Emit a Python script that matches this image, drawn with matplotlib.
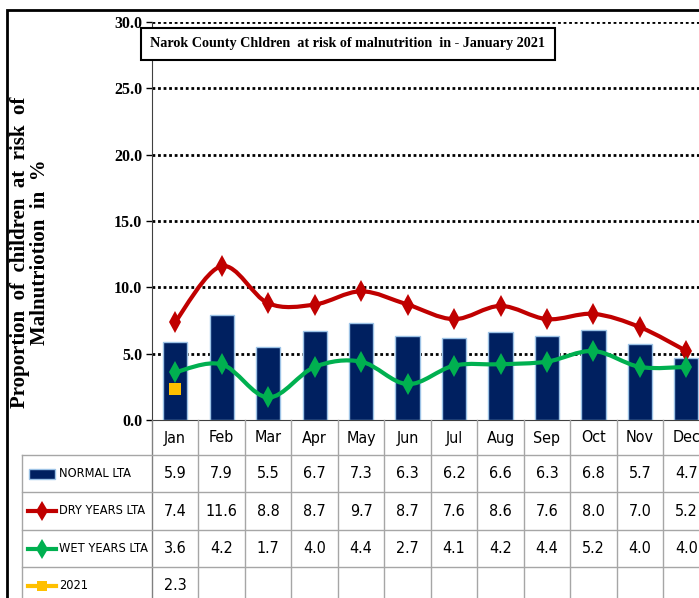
import numpy as np
import matplotlib.pyplot as plt
import matplotlib.transforms as mtransforms
from matplotlib.path import Path
from matplotlib.patches import PathPatch, Rectangle
from matplotlib.lines import Line2D

months = ['Jan', 'Feb', 'Mar', 'Apr', 'May', 'Jun', 'Jul', 'Aug', 'Sep', 'Oct', 'Nov', 'Dec']
normal_lta = [5.9, 7.9, 5.5, 6.7, 7.3, 6.3, 6.2, 6.6, 6.3, 6.8, 5.7, 4.7]
dry_lta = [7.4, 11.6, 8.8, 8.7, 9.7, 8.7, 7.6, 8.6, 7.6, 8.0, 7.0, 5.2]
wet_lta = [3.6, 4.2, 1.7, 4.0, 4.4, 2.7, 4.1, 4.2, 4.4, 5.2, 4.0, 4.0]
y2021 = [2.3]
row_labels = ['NORMAL LTA', 'DRY YEARS LTA', 'WET YEARS LTA', '2021']
yticks = [0, 5, 10, 15, 20, 25, 30]

navy = '#002060'
red = '#C00000'
green = '#00B050'
gold = '#FFC000'
grid_gray = '#A6A6A6'
serif_b = dict(family=['Liberation Serif', 'DejaVu Serif'], weight='bold')
sans_c = dict(family=['DejaVu Sans'], stretch='condensed')

W, H = 699, 598
fig = plt.figure(figsize=(W / 100, H / 100), dpi=100)


def fx(px):
    return px / W


def fy(py):
    return 1 - py / H


def smooth_path(x, y):
    # Excel-style smoothed line: cubic bezier through every point
    x = np.asarray(x, float)
    y = np.asarray(y, float)
    px = np.concatenate([[x[0]], x, [x[-1]]])
    py = np.concatenate([[y[0]], y, [y[-1]]])
    verts = [(x[0], y[0])]
    codes = [Path.MOVETO]
    for i in range(len(x) - 1):
        c1 = (px[i + 1] + (px[i + 2] - px[i]) / 6, py[i + 1] + (py[i + 2] - py[i]) / 6)
        c2 = (px[i + 2] - (px[i + 3] - px[i + 1]) / 6, py[i + 2] - (py[i + 3] - py[i + 1]) / 6)
        verts += [c1, c2, (px[i + 2], py[i + 2])]
        codes += [Path.CURVE4] * 3
    return Path(verts, codes)


ax = fig.add_axes([fx(152), fy(420), fx(709.6 - 152), (420 - 22) / H])
x = np.arange(len(months))

ax.bar(x, normal_lta, width=0.52, color=navy, edgecolor='#9DC3E6', linewidth=1, zorder=2)
for vals, col in [(dry_lta, red), (wet_lta, green)]:
    ax.add_patch(PathPatch(smooth_path(x, vals), facecolor='none', edgecolor=col,
                           linewidth=3, capstyle='round', zorder=3))
    ax.plot(x, vals, linestyle='none', marker='d', markersize=11, color=col,
            markeredgewidth=0, zorder=4)
ax.plot(x[:len(y2021)], y2021, linestyle='none', marker='s', markersize=9,
        color=gold, markeredgewidth=0, zorder=4)

ax.set_xlim(-0.5, 11.5)
ax.set_ylim(0, 30)
ax.set_yticks(yticks)
ax.set_yticklabels([f'{v:.1f}' for v in yticks], fontsize=11.5, **serif_b)
ax.set_xticks([])
for v in yticks[1:]:
    ax.axhline(v, color='black', linestyle=(0, (1, 1)), linewidth=2, zorder=1)
ax.tick_params(axis='y', length=4, width=1, pad=3, direction='out')
for s in ['top', 'right']:
    ax.spines[s].set_visible(False)
ax.spines['left'].set_color('#404040')
ax.spines['bottom'].set_color('#404040')

# title box
fig.text(fx(348), fy(44), 'Narok County Chldren  at risk of malnutrition  in - January 2021',
         ha='center', va='center', fontsize=10.2, zorder=5,
         bbox=dict(boxstyle='square,pad=0.65', facecolor='white', edgecolor='black',
                   linewidth=1.5), **serif_b)

# y label
fig.text(fx(30), fy(252), 'Proportion  of  children  at  risk  of\nMalnutriotion  in  %',
         rotation=90, ha='center', va='center', fontsize=15, linespacing=1.0, **serif_b)

# data table below the axis
tr = mtransforms.blended_transform_factory(ax.transData, fig.transFigure)
row_edges = [420, 455, 492, 530, 567, 604]
col_edges = np.arange(-0.5, 12.0, 1.0)
for ce in col_edges[1:]:
    fig.add_artist(Line2D([ce, ce], [fy(420), fy(604)], transform=tr, color=grid_gray,
                          linewidth=1))
fig.add_artist(Line2D([fx(152), fx(152)], [fy(420), fy(604)], color='#808080', linewidth=1))
for re in row_edges[1:]:
    fig.add_artist(Line2D([fx(22), fx(720)], [fy(re), fy(re)], color=grid_gray, linewidth=1))
fig.add_artist(Line2D([fx(22), fx(22)], [fy(455), fy(604)], color=grid_gray, linewidth=1))

for i, m in enumerate(months):
    fig.text(i, fy(438), m, transform=tr, ha='center', va='center', fontsize=11.5, **sans_c)

rows = [normal_lta, dry_lta, wet_lta, y2021]
for r, vals in enumerate(rows):
    yc = fy((row_edges[r + 1] + row_edges[r + 2]) / 2)
    for i, v in enumerate(vals):
        fig.text(i, yc, f'{v:.1f}', transform=tr, ha='center', va='center',
                 fontsize=11.5, **sans_c)
    fig.text(fx(59), yc, row_labels[r], ha='left', va='center', fontsize=9.2, **sans_c)

# legend keys
y0 = fy((row_edges[1] + row_edges[2]) / 2)
fig.add_artist(Rectangle((fx(29), y0 - 5 / H), 26 / W, 10 / H, facecolor=navy,
                         edgecolor='#9DC3E6', linewidth=1, transform=fig.transFigure))
for r, col, mk in [(1, red, 'd'), (2, green, 'd'), (3, gold, 's')]:
    yc = fy((row_edges[r + 1] + row_edges[r + 2]) / 2)
    fig.add_artist(Line2D([fx(28), fx(56)], [yc, yc], color=col, linewidth=3,
                          transform=fig.transFigure))
    fig.add_artist(Line2D([fx(42)], [yc], color=col, marker=mk, markersize=10 if mk == 'd' else 7,
                          markeredgewidth=0, transform=fig.transFigure))

# outer frame
fig.add_artist(Rectangle((fx(7), fy(720)), fx(800), (720 - 10) / H, facecolor='none',
                         edgecolor='black', linewidth=2, transform=fig.transFigure))

fig.savefig('out.png', dpi=100)
